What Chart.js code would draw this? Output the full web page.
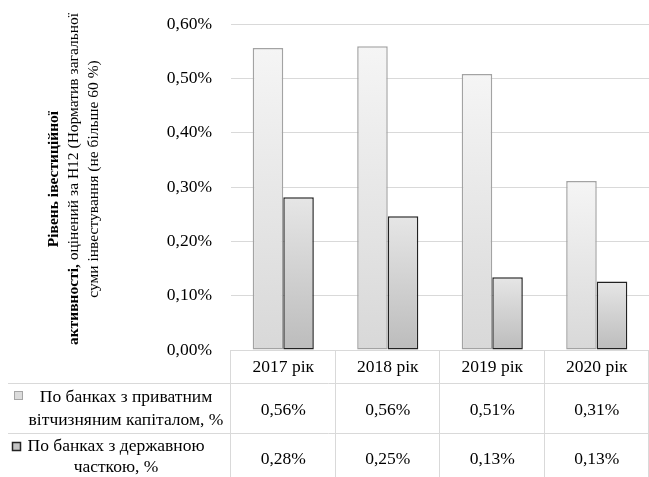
<!DOCTYPE html>
<html>
<head>
<meta charset="utf-8">
<script src="https://cdn.jsdelivr.net/npm/chart.js@4/dist/chart.umd.min.js"></script>
<style>
  body { margin: 0; background: #fff; }
  #wrap { width: 649px; height: 477px; position: relative; }
</style>
</head>
<body>
<div id="wrap"><canvas id="investChart"></canvas></div>
<script>
// Data
const years = ['2017 рік', '2018 рік', '2019 рік', '2020 рік'];
const privateBanks = [0.556, 0.559, 0.508, 0.311];
const stateBanks = [0.281, 0.246, 0.134, 0.126];
const privateLabel = ['По банках з приватним', 'вітчизняним капіталом, %'];
const stateLabel = ['По банках з державною', 'часткою, %'];
const yTicks = [0, 0.1, 0.2, 0.3, 0.4, 0.5, 0.6];
const titleLines = [
    [['Рівень івестиційної', true]],
    [['активності,', true], [' оцінений за Н12 (Норматив загальної', false]],
    [['суми інвестування (не більше 60 %)', false]]
];

const serif = '"Liberation Serif", "Times New Roman", serif';
const gridColor = '#d9d9d9';
const fontSize = 17.5;

function pct(v) {
    return v.toFixed(2).replace('.', ',') + '%';
}

// vertical gradient inside each bar
function barFill(light, dark) {
    return function(context) {
        const chart = context.chart;
        const y = chart.scales.y;
        if (!y || context.type !== 'data') return light;
        const top = y.getPixelForValue(context.raw);
        const base = y.getPixelForValue(0);
        if (!isFinite(top) || !isFinite(base) || top === base) return light;
        const g = chart.ctx.createLinearGradient(0, top, 0, base);
        g.addColorStop(0, light);
        g.addColorStop(1, dark);
        return g;
    };
}

// rotated y-axis title with mixed bold text
const axisTitle = {
    id: 'axisTitle',
    afterDraw(chart) {
        const ctx = chart.ctx;
        const xs = [54, 74, 94];
        ctx.save();
        ctx.fillStyle = '#000';
        ctx.textBaseline = 'middle';
        titleLines.forEach((parts, i) => {
            ctx.save();
            ctx.translate(xs[i], 179);
            ctx.rotate(-Math.PI / 2);
            let total = 0;
            parts.forEach(p => {
                ctx.font = (p[1] ? 'bold ' : '') + '15.5px ' + serif;
                total += ctx.measureText(p[0]).width;
            });
            let x = -total / 2;
            ctx.textAlign = 'left';
            parts.forEach(p => {
                ctx.font = (p[1] ? 'bold ' : '') + '15.5px ' + serif;
                ctx.fillText(p[0], x, 0);
                x += ctx.measureText(p[0]).width;
            });
            ctx.restore();
        });
        ctx.restore();
    }
};

// data table under the axis
const dataTable = {
    id: 'dataTable',
    afterDraw(chart) {
        const ctx = chart.ctx;
        const xs = chart.scales.x;
        const n = years.length;
        const colW = (xs.right - xs.left) / n;
        const top = chart.chartArea.bottom;
        const row1 = 383, row2 = 433, bottom = chart.height;
        ctx.save();
        ctx.strokeStyle = gridColor;
        ctx.lineWidth = 1;
        ctx.beginPath();
        for (let i = 0; i <= n; i++) {
            const x = Math.round(xs.left + i * colW) - 0.5;
            ctx.moveTo(x, top);
            ctx.lineTo(x, bottom);
        }
        ctx.moveTo(8, row1 + 0.5);
        ctx.lineTo(chart.width, row1 + 0.5);
        ctx.moveTo(8, row2 + 0.5);
        ctx.lineTo(chart.width, row2 + 0.5);
        ctx.stroke();

        ctx.fillStyle = '#000';
        ctx.font = fontSize + 'px ' + serif;
        ctx.textAlign = 'center';
        ctx.textBaseline = 'middle';
        for (let i = 0; i < n; i++) {
            const cx = xs.getPixelForValue(i);
            ctx.fillText(pct(privateBanks[i]), cx, 410);
            ctx.fillText(pct(stateBanks[i]), cx, 459);
        }
        ctx.fillText(privateLabel[0], 126, 397);
        ctx.fillText(privateLabel[1], 126, 420);
        ctx.fillText(stateLabel[0], 116, 446);
        ctx.fillText(stateLabel[1], 116, 467);

        // legend keys
        ctx.lineWidth = 1;
        ctx.fillStyle = '#dcdcdc';
        ctx.strokeStyle = '#a6a6a6';
        ctx.fillRect(14.5, 391.5, 8, 8);
        ctx.strokeRect(14.5, 391.5, 8, 8);
        ctx.fillStyle = '#c4c4c4';
        ctx.strokeStyle = '#222';
        ctx.lineWidth = 1.5;
        ctx.fillRect(12.5, 442.5, 8, 8);
        ctx.strokeRect(12.5, 442.5, 8, 8);
        ctx.restore();
    }
};

const ctx = document.getElementById('investChart').getContext('2d');

new Chart(ctx, {
    type: 'bar',
    data: {
        labels: years,
        datasets: [{
            label: privateLabel.join(' '),
            data: privateBanks,
            backgroundColor: barFill('#f5f5f5', '#d8d8d8'),
            borderColor: '#a3a3a3',
            borderWidth: 1.5,
            borderSkipped: false,
            categoryPercentage: 0.585,
            barPercentage: 1.0
        }, {
            label: stateLabel.join(' '),
            data: stateBanks,
            backgroundColor: barFill('#e6e6e6', '#bcbcbc'),
            borderColor: '#222222',
            borderWidth: 1.5,
            borderSkipped: false,
            categoryPercentage: 0.585,
            barPercentage: 1.0
        }]
    },
    options: {
        responsive: true,
        maintainAspectRatio: false,
        animation: false,
        layout: { padding: { top: 24, right: 0, left: 0, bottom: 0 } },
        scales: {
            y: {
                min: 0,
                max: 0.6,
                afterBuildTicks(scale) {
                    scale.ticks = yTicks.map(v => ({ value: v }));
                },
                afterFit(scale) { scale.width = 231; },
                ticks: {
                    padding: 13,
                    color: '#000',
                    font: { family: serif, size: fontSize },
                    callback: v => pct(v)
                },
                // invisible tick marks keep the labels away from the plot
                grid: { color: gridColor, drawTicks: true, tickLength: 6, tickColor: 'rgba(0,0,0,0)' },
                border: { display: false }
            },
            x: {
                afterFit(scale) { scale.height = 127; },
                ticks: {
                    padding: 7,
                    color: '#000',
                    font: { family: serif, size: fontSize }
                },
                grid: { display: false, drawTicks: false },
                border: { display: false }
            }
        },
        plugins: {
            legend: { display: false },
            tooltip: { enabled: false }
        }
    },
    plugins: [axisTitle, dataTable]
});
</script>
</body>
</html>
